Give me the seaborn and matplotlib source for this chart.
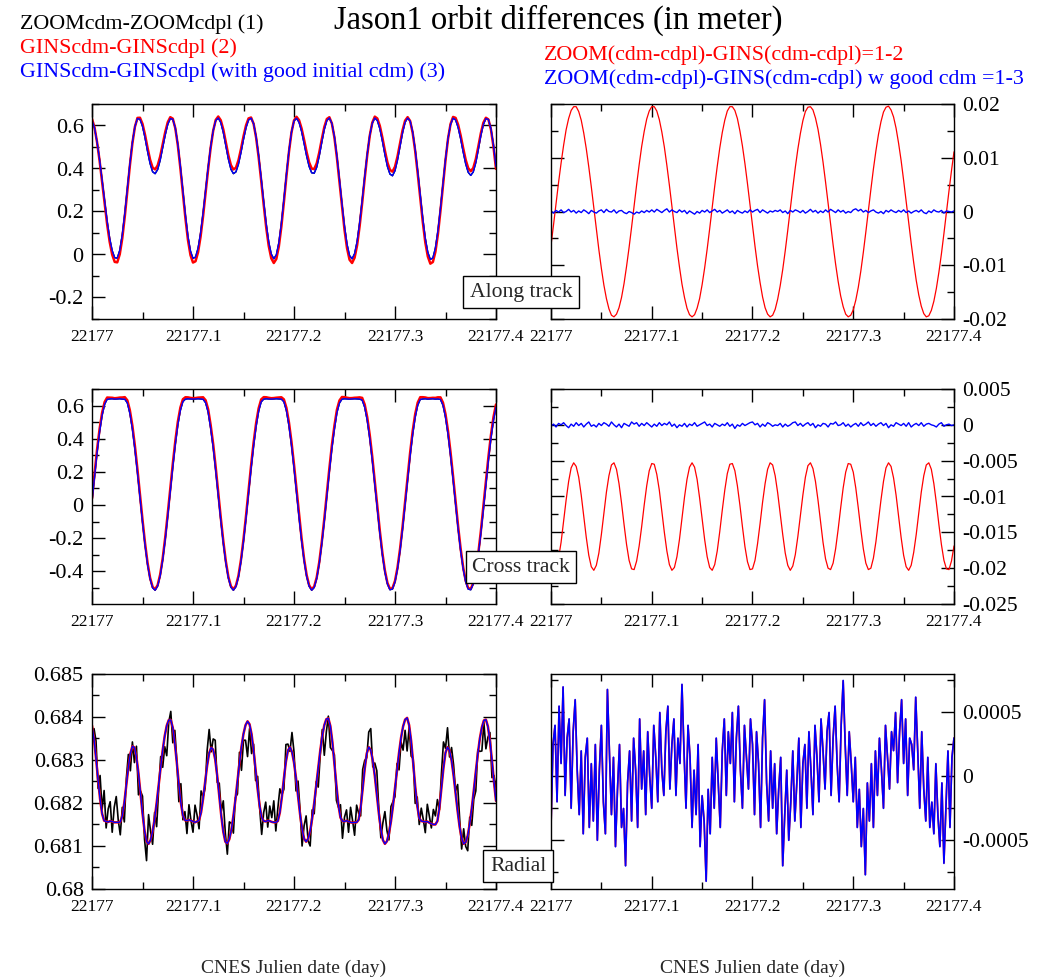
import numpy as np
import pandas as pd
import seaborn as sns
import matplotlib
matplotlib.use("Agg")
import matplotlib.pyplot as plt
from matplotlib.ticker import MultipleLocator, FuncFormatter

# CNES julian day origin of the plotted window
T0 = 22177.0

# ---- Along track, one sample every 0.0025 day ----
# ZOOM cdm - ZOOM cdpl (1), in mm
along_zoom_mm = [
    625, 588, 524, 442, 347, 249, 155, 76, 18, -15,
    -17, 20, 93, 193, 308, 422, 522, 595, 632, 629,
    597, 543, 480, 423, 385, 376, 395, 438, 496, 556,
    605, 632, 629, 588, 512, 410, 296, 183, 85, 16,
    -18, -12, 29, 100, 194, 300, 406, 502, 577, 623,
    635, 614, 568, 506, 444, 397, 376, 384, 420, 474,
    536, 590, 626, 634, 609, 548, 460, 356, 246, 142,
    58, 2, -20, -2, 55, 145, 256, 373, 482, 569,
    621, 634, 615, 573, 517, 458, 409, 380, 378, 406,
    458, 522, 582, 623, 635, 610, 549, 458, 350, 237,
    132, 48, -5, -20, 4, 61, 148, 252, 363, 467,
    554, 611, 635, 623, 585, 528, 465, 409, 374, 366,
    390, 440, 504, 567, 615, 635, 621, 570, 489, 387,
    276, 168, 75, 10, -23, -16, 30, 110, 215, 331,
    444, 540, 605, 634, 626, 591, 538, 477, 421, 382,
    368, 384, 427, 488, 553, 605, 632, 628, 585, 509,
    409]
# (1)-(2), in 0.1 mm
along_12 = [
    -63, -25, 15, 54, 90, 123, 152, 173, 188, 195,
    195, 186, 170, 146, 117, 83, 46, 7, -33, -71,
    -106, -137, -162, -181, -193, -196, -191, -179, -160, -134,
    -102, -67, -29, 11, 50, 87, 121, 149, 172, 187,
    195, 195, 187, 171, 148, 120, 86, 49, 10, -30,
    -68, -103, -135, -160, -180, -192, -196, -192, -180, -162,
    -136, -105, -70, -32, 8, 47, 84, 118, 147, 170,
    187, 195, 195, 188, 173, 150, 122, 89, 52, 13,
    -26, -65, -101, -132, -159, -179, -191, -196, -193, -182,
    -163, -138, -108, -73, -35, 5, 44, 82, 116, 145,
    169, 186, 194, 195, 189, 174, 153, 125, 92, 55,
    16, -23, -62, -98, -130, -157, -177, -191, -196, -193,
    -183, -165, -141, -111, -76, -38, 2, 41, 79, 113,
    143, 167, 185, 194, 196, 189, 176, 155, 127, 95,
    58, 19, -20, -59, -95, -128, -155, -176, -190, -196,
    -194, -184, -167, -143, -113, -79, -41, -1, 38, 76,
    111]
# (1)-(3), in 0.1 mm
along_13 = [
    1, -3, 2, -1, 3, -2, 0, 4, -1, 2,
    -3, 1, -2, 3, 0, -4, 2, -1, -3, 1,
    3, -2, 4, 0, -1, 3, -3, 1, 2, -2,
    -4, 0, -2, -5, -1, -3, 1, -2, 2, -1,
    3, -1, 4, 1, -2, 2, 5, -1, 3, 0,
    -2, 3, -1, 2, -4, 1, -2, -5, 0, -3,
    2, -1, 3, -2, 1, 4, -1, 2, -3, 0,
    3, -2, 1, -4, 2, -1, -3, 1, -2, 3,
    -1, 2, 4, -2, 3, 0, -3, 1, -1, 2,
    0, 3, -2, 1, -4, 2, -1, 3, 1, -2,
    2, -3, 0, 4, -1, 2, -3, 1, -2, 3,
    -1, 4, 1, -2, 3, -1, 2, -3, 0, -2,
    3, 5, 1, 4, -1, 2, -2, 1, 3, -1,
    -3, 0, -4, 2, -1, 3, 0, -2, 2, -1,
    3, -2, 1, -3, 0, 2, -1, 3, -2, -4,
    1, -2, 3, 0, -1, 2, -3, 1, 0, -1,
    1]

# ---- Cross track, one sample every 0.0025 day ----
cross_zoom_mm = [
    20, 165, 314, 440, 540, 608, 638, 640, 641, 639,
    640, 641, 639, 638, 616, 553, 458, 335, 195, 44,
    -104, -242, -359, -447, -500, -515, -490, -428, -333, -210,
    -69, 81, 229, 366, 484, 571, 624, 639, 641, 640,
    639, 640, 641, 640, 638, 617, 560, 462, 346, 206,
    57, -93, -231, -350, -441, -496, -515, -493, -435, -341,
    -220, -81, 69, 218, 356, 475, 566, 622, 639, 641,
    640, 639, 640, 641, 640, 639, 623, 569, 479, 361,
    224, 75, -75, -215, -337, -431, -491, -515, -498, -444,
    -355, -236, -99, 51, 200, 340, 458, 557, 615, 639,
    641, 640, 639, 640, 641, 640, 639, 633, 590, 511,
    402, 270, 123, -28, -172, -301, -405, -477, -512, -508,
    -465, -386, -277, -145, 2, 153, 297, 426, 530, 602,
    637, 640, 641, 639, 640, 641, 639, 640, 637, 602,
    530, 426, 297, 153, 2, -145, -277, -386, -465, -508,
    -512, -477, -405, -301, -172, -28, 123, 270, 402, 511,
    590]
cross_12 = [
    -193, -202, -200, -186, -164, -134, -105, -79, -60, -53,
    -58, -73, -98, -127, -157, -182, -198, -203, -196, -179,
    -153, -123, -94, -71, -56, -53, -62, -82, -109, -139,
    -167, -189, -201, -202, -190, -169, -142, -112, -85, -64,
    -54, -55, -69, -91, -120, -150, -176, -195, -203, -199,
    -184, -160, -131, -101, -76, -59, -53, -59, -76, -102,
    -131, -160, -184, -199, -203, -195, -176, -149, -119, -91,
    -68, -55, -54, -64, -85, -112, -142, -170, -191, -202,
    -201, -189, -166, -138, -108, -82, -62, -53, -56, -71,
    -95, -124, -153, -179, -196, -203, -197, -181, -156, -127,
    -98, -73, -57, -53, -61, -79, -105, -135, -164, -187,
    -200, -202, -193, -173, -146, -116, -88, -66, -54, -55,
    -66, -88, -116, -146, -173, -193, -202, -200, -186, -163,
    -134, -105, -79, -60, -53, -58, -74, -98, -127, -157,
    -182, -198, -203, -196, -178, -153, -123, -94, -71, -56,
    -53, -62, -82, -109, -139, -167, -189, -201, -202, -190,
    -169]
cross_13 = [
    -2, 1, -3, 2, 0, 3, -1, -4, 1, -2,
    3, -1, 2, -3, 1, 4, -2, 0, -3, 2,
    -1, 3, 1, -2, 4, 0, -3, 1, -4, 2,
    0, -2, 4, 1, 3, -2, 2, -1, 3, 0,
    -3, 1, -2, 3, -1, 2, 0, 4, -2, 1,
    -4, 0, -2, 2, -3, 1, -1, 3, -2, 0,
    2, 4, -1, 1, -3, 2, 0, -2, 1, -1,
    3, -2, 1, -5, 0, -2, 2, -1, 1, 3,
    4, 0, 2, -3, 1, -2, 3, 1, -2, 0,
    -1, 2, -3, 1, -2, 0, 3, 4, -1, 2,
    -2, 1, 3, -1, 2, -4, 0, -2, 2, 1,
    -3, 2, 1, 4, -1, 0, 3, -2, 1, -3,
    0, 2, -2, 3, -1, 1, 4, -1, 2, -2,
    1, 3, -1, 2, -4, 0, -2, 3, 1, -1,
    2, -2, 3, -3, 0, 2, -1, 3, -2, 1,
    2, 0, -1, -3, 1, 3, -2, 0, 1, -1,
    0]

# ---- Radial, one sample every 0.002 day ----
# GINS with good cdm (3), mm above 680 mm
radial_gins_mm = [
    3.80, 3.48, 3.04, 2.54, 2.09, 1.75, 1.59, 1.57, 1.56, 1.58,
    1.57, 1.55, 1.55, 1.55, 1.56, 1.70, 2.01, 2.42, 2.83, 3.15,
    3.32, 3.29, 3.07, 2.69, 2.23, 1.76, 1.36, 1.11, 1.05, 1.14,
    1.34, 1.63, 2.00, 2.42, 2.83, 3.23, 3.56, 3.80, 3.93, 3.93,
    3.75, 3.39, 2.93, 2.43, 2.00, 1.71, 1.60, 1.59, 1.61, 1.59,
    1.57, 1.55, 1.57, 1.60, 1.78, 2.10, 2.49, 2.87, 3.16, 3.29,
    3.24, 3.01, 2.63, 2.16, 1.70, 1.33, 1.10, 1.06, 1.16, 1.38,
    1.70, 2.08, 2.51, 2.93, 3.31, 3.61, 3.81, 3.90, 3.83, 3.60,
    3.22, 2.77, 2.32, 1.93, 1.67, 1.58, 1.57, 1.59, 1.58, 1.56,
    1.55, 1.55, 1.58, 1.78, 2.14, 2.57, 2.96, 3.22, 3.30, 3.19,
    2.94, 2.58, 2.16, 1.74, 1.40, 1.17, 1.10, 1.17, 1.35, 1.64,
    2.00, 2.40, 2.82, 3.22, 3.56, 3.81, 3.95, 3.97, 3.79, 3.42,
    2.92, 2.41, 1.95, 1.66, 1.58, 1.57, 1.59, 1.57, 1.55, 1.54,
    1.55, 1.55, 1.61, 1.90, 2.33, 2.79, 3.15, 3.30, 3.23, 2.99,
    2.63, 2.20, 1.76, 1.39, 1.14, 1.05, 1.11, 1.29, 1.57, 1.93,
    2.35, 2.77, 3.17, 3.52, 3.78, 3.94, 3.98, 3.81, 3.44, 2.93,
    2.39, 1.94, 1.65, 1.58, 1.57, 1.56, 1.57, 1.54, 1.52, 1.50,
    1.50, 1.58, 1.89, 2.35, 2.82, 3.17, 3.30, 3.22, 2.99, 2.64,
    2.23, 1.81, 1.44, 1.18, 1.05, 1.09, 1.24, 1.52, 1.88, 2.29,
    2.73, 3.14, 3.50, 3.76, 3.92, 3.94, 3.78, 3.44, 2.99, 2.49,
    2.05]
# (1)-(3) radial, in 0.01 mm ((1)-(2) is the same within the line width)
radial_13 = [
    -40, 25, 40, -20, 55, 10, 70, -15, 30, 45,
    -25, 35, 60, 5, -30, 20, -45, 15, 30, -40,
    10, -35, 25, -50, 5, 40, -20, -45, 68, 20,
    -30, 15, -55, -10, 25, -40, -25, -70, -5, 20,
    -35, 30, 5, -40, 45, -10, 20, -30, 35, 0,
    -25, 40, 15, -20, 50, 5, -15, 35, 55, -10,
    25, 45, -15, 30, 10, 72, 20, -25, 40, 15,
    -40, 5, -30, 25, -55, -15, -35, -82, -10, -45,
    15, -25, 30, -5, -40, 20, 45, -15, 35, 10,
    50, -20, 30, 55, 5, -25, 40, 15, -10, 45,
    25, -30, 35, 10, -40, 30, 60, -5, -35, 20,
    -25, 10, -45, -10, 15, -70, -30, 5, -50, -20,
    20, -35, -5, 30, -40, 10, 25, -25, 35, 5,
    -30, 40, 15, -20, 45, 20, -10, 35, 50, -15,
    30, 55, 10, -20, 40, 75, 25, -15, 35, 10,
    -20, 15, -40, -10, -55, -25, -77, -5, -35, 10,
    -40, 20, -15, 30, 5, -25, 40, 15, -10, 35,
    20, 50, -5, 35, 60, 10, 45, -15, 30, 25,
    5, 62, 20, -25, 35, -10, -35, 15, -40, -20,
    -45, 10, -30, -55, -5, -68, -25, 20, -40, 15,
    30]

RED = "#ff0000"
BLUE = "#0000ff"
BLACK = "#000000"

sns.set_theme(style="ticks")
plt.rcParams["font.family"] = ["Liberation Serif", "DejaVu Serif"]
plt.rcParams["axes.unicode_minus"] = False
plt.rcParams["axes.edgecolor"] = "black"
plt.rcParams["axes.linewidth"] = 1.0

# sample times
t_a = T0 + 0.0025 * np.arange(len(along_zoom_mm))
t_c = T0 + 0.0025 * np.arange(len(cross_zoom_mm))
t_r = T0 + 0.002 * np.arange(len(radial_gins_mm))

# rebuild the three solutions from (1) and the differences
along1 = np.array(along_zoom_mm) / 1000.0
along2 = along1 - np.array(along_12) / 1e4
along3 = along1 - np.array(along_13) / 1e4
cross1 = np.array(cross_zoom_mm) / 1000.0
cross2 = cross1 - np.array(cross_12) / 1e4
cross3 = cross1 - np.array(cross_13) / 1e4
rad3 = 0.680 + np.array(radial_gins_mm) / 1000.0
rad_d = np.array(radial_13) / 1e5
rad1 = rad3 + rad_d
rad2 = rad3

fig = plt.figure(figsize=(10.39, 9.80), dpi=100)
W, H = 1039.0, 980.0


def make_ax(x0, y0, x1, y1):
    return fig.add_axes([x0 / W, 1 - y1 / H, (x1 - x0) / W, (y1 - y0) / H])


def line(ax, t, y, color, lw, join="round"):
    df = pd.DataFrame({"t": t, "v": y})
    sns.lineplot(data=df, x="t", y="v", ax=ax, color=color, linewidth=lw,
                 estimator=None, sort=False, legend=False,
                 solid_joinstyle=join)


def fmt(v, pos):
    return "%g" % (round(v, 9) + 0.0)


def style(ax, ylim, major, minor, right):
    ax.set_xlim(T0, T0 + 0.4)
    ax.set_ylim(*ylim)
    ax.xaxis.set_major_locator(MultipleLocator(0.1))
    ax.xaxis.set_minor_locator(MultipleLocator(0.05))
    ax.yaxis.set_major_locator(MultipleLocator(major))
    ax.yaxis.set_minor_locator(MultipleLocator(minor))
    ax.xaxis.set_major_formatter(FuncFormatter(fmt))
    ax.yaxis.set_major_formatter(FuncFormatter(fmt))
    ax.tick_params(which="both", direction="in", top=True, bottom=True,
                   left=True, right=True, colors="black", width=1.0)
    ax.tick_params(which="major", length=9.5)
    ax.tick_params(which="minor", length=5)
    ax.tick_params(axis="x", labelsize=12.5, pad=7)
    if right:
        ax.tick_params(axis="y", labelleft=False, labelright=True,
                       labelsize=15.5, pad=6)
    else:
        ax.tick_params(axis="y", labelsize=16, pad=6)
    ax.set_xlabel("")
    ax.set_ylabel("")
    for s in ax.spines.values():
        s.set_visible(True)
        s.set_color("black")
        s.set_linewidth(1.0)


LX0, LX1, RX0, RX1 = 92, 496, 551, 954
rows = [(104, 319), (389, 604), (674, 889)]

# along track
ax = make_ax(LX0, rows[0][0], LX1, rows[0][1])
line(ax, t_a, along1, BLACK, 1.0)
line(ax, t_a, along2, RED, 1.8)
line(ax, t_a, along3, BLUE, 1.0)
style(ax, (-0.3, 0.7), 0.2, 0.1, False)

ax = make_ax(RX0, rows[0][0], RX1, rows[0][1])
line(ax, t_a, along1 - along2, RED, 0.9)
line(ax, t_a, along1 - along3, BLUE, 1.0)
style(ax, (-0.02, 0.02), 0.01, 0.005, True)

# cross track
ax = make_ax(LX0, rows[1][0], LX1, rows[1][1])
line(ax, t_c, cross1, BLACK, 1.0)
line(ax, t_c, cross2, RED, 1.8)
line(ax, t_c, cross3, BLUE, 1.0)
style(ax, (-0.598, 0.7), 0.2, 0.1, False)

ax = make_ax(RX0, rows[1][0], RX1, rows[1][1])
line(ax, t_c, cross1 - cross2, RED, 0.9)
line(ax, t_c, cross1 - cross3, BLUE, 1.0)
style(ax, (-0.025, 0.005), 0.005, 0.0025, True)

# radial
ax = make_ax(LX0, rows[2][0], LX1, rows[2][1])
line(ax, t_r, rad1, BLACK, 1.2)
line(ax, t_r, rad2, RED, 1.8)
line(ax, t_r, rad3, BLUE, 1.0)
style(ax, (0.68, 0.685), 0.001, 0.0005, False)
ax.set_xlabel("CNES Julien date (day)", fontsize=14)
ax.xaxis.set_label_coords(0.5, -0.367)
ax.xaxis.label.set_va("center")

ax = make_ax(RX0, rows[2][0], RX1, rows[2][1])
line(ax, t_r, rad1 - rad2, RED, 1.2, join="miter")
line(ax, t_r, rad1 - rad3, BLUE, 1.2)
style(ax, (-0.00088, 0.0008), 0.0005, 0.00025, True)
ax.set_xlabel("CNES Julien date (day)", fontsize=14)
ax.xaxis.set_label_coords(0.5, -0.367)
ax.xaxis.label.set_va("center")

# header texts
fig.text(558 / W, 1 - 29 / H, "Jason1 orbit differences (in meter)",
         fontsize=23.5, ha="center", va="baseline", color=BLACK)
fs = 15.8
fig.text(20 / W, 1 - 29 / H, "ZOOMcdm-ZOOMcdpl (1)", fontsize=fs,
         va="baseline", color=BLACK)
fig.text(20 / W, 1 - 53 / H, "GINScdm-GINScdpl (2)", fontsize=fs,
         va="baseline", color=RED)
fig.text(20 / W, 1 - 77 / H, "GINScdm-GINScdpl (with good initial cdm) (3)",
         fontsize=fs, va="baseline", color=BLUE)
fig.text(544 / W, 1 - 60 / H, "ZOOM(cdm-cdpl)-GINS(cdm-cdpl)=1-2",
         fontsize=fs, va="baseline", color=RED)
fig.text(544 / W, 1 - 84 / H, "ZOOM(cdm-cdpl)-GINS(cdm-cdpl) w good cdm =1-3",
         fontsize=fs, va="baseline", color=BLUE)

box = dict(boxstyle="square,pad=0.3", fc="white", ec="black", lw=1.0)
fig.text(521 / W, 1 - 292 / H, "Along track", fontsize=15.6,
         ha="center", va="center", bbox=box)
fig.text(521 / W, 1 - 567 / H, "Cross track", fontsize=15.6,
         ha="center", va="center", bbox=box)
fig.text(518 / W, 1 - 866 / H, "Radial", fontsize=15.6,
         ha="center", va="center", bbox=box)

fig.savefig("out.png", dpi=100)
